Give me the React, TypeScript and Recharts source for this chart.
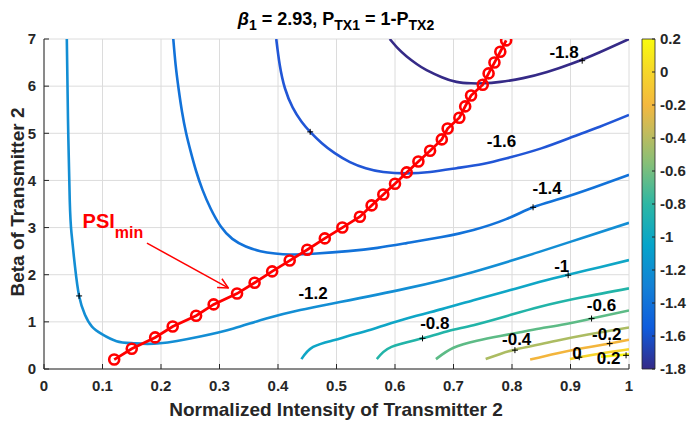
import React from 'react';
import { ComposedChart, Line, Scatter, XAxis, YAxis, CartesianGrid, ReferenceArea } from 'recharts';

// ---------- data ----------
const xTicks = [0, 0.1, 0.2, 0.3, 0.4, 0.5, 0.6, 0.7, 0.8, 0.9, 1];
const yTicks = [0, 1, 2, 3, 4, 5, 6, 7];
const cbTicks = [-1.8, -1.6, -1.4, -1.2, -1, -0.8, -0.6, -0.4, -0.2, 0, 0.2];

const levels = [-1.8, -1.6, -1.4, -1.2, -1, -0.8, -0.6, -0.4, -0.2, 0, 0.2];

const c18x = [0.591, 0.605, 0.62, 0.637, 0.654, 0.68, 0.705, 0.73, 0.751, 0.78, 0.819, 0.86, 0.905, 0.95, 1.0];
const c18y = [7.0, 6.8, 6.63, 6.47, 6.34, 6.19, 6.09, 6.06, 6.06, 6.09, 6.17, 6.3, 6.49, 6.72, 7.0];
const c16x = [0.397, 0.403, 0.412, 0.425, 0.44, 0.455, 0.475, 0.497, 0.523, 0.55, 0.58, 0.62, 0.66, 0.705, 0.75, 0.791, 0.85, 0.905, 0.95, 1.0];
const c16y = [7.0, 6.45, 5.95, 5.55, 5.25, 5.03, 4.79, 4.58, 4.39, 4.26, 4.18, 4.15, 4.18, 4.26, 4.35, 4.47, 4.68, 4.93, 5.14, 5.39];
const c14x = [0.221, 0.225, 0.23, 0.236, 0.243, 0.251, 0.26, 0.271, 0.285, 0.302, 0.322, 0.345, 0.37, 0.395, 0.421, 0.466, 0.52, 0.57, 0.62, 0.68, 0.734, 0.79, 0.836, 0.882, 0.94, 1.0];
const c14y = [7.0, 6.45, 5.95, 5.45, 5.0, 4.6, 4.2, 3.8, 3.4, 3.03, 2.76, 2.6, 2.5, 2.45, 2.43, 2.45, 2.5, 2.57, 2.67, 2.8, 2.95, 3.18, 3.43, 3.61, 3.85, 4.12];
const c12x = [0.039, 0.041, 0.044, 0.047, 0.053, 0.06, 0.07, 0.082, 0.099, 0.124, 0.153, 0.198, 0.267, 0.324, 0.38, 0.438, 0.506, 0.62, 0.734, 0.848, 0.92, 1.0];
const c12y = [7.0, 5.3, 3.58, 2.88, 2.17, 1.55, 1.15, 0.9, 0.74, 0.59, 0.545, 0.545, 0.69, 0.86, 1.07, 1.25, 1.42, 1.71, 2.06, 2.49, 2.78, 3.1];
const c10x = [0.44, 0.46, 0.495, 0.52, 0.56, 0.62, 0.68, 0.734, 0.79, 0.848, 0.896, 0.95, 1.0];
const c10y = [0.21, 0.47, 0.61, 0.7, 0.84, 1.07, 1.27, 1.46, 1.65, 1.85, 2.0, 2.16, 2.31];
const c08x = [0.569, 0.594, 0.647, 0.69, 0.734, 0.79, 0.848, 0.92, 1.0];
const c08y = [0.21, 0.47, 0.65, 0.8, 0.93, 1.12, 1.32, 1.52, 1.71];
const c06x = [0.67, 0.7, 0.74, 0.78, 0.814, 0.848, 0.89, 0.936, 1.0];
const c06y = [0.21, 0.45, 0.6, 0.7, 0.78, 0.86, 0.95, 1.07, 1.24];
const c04x = [0.755, 0.78, 0.805, 0.85, 0.876, 0.93, 1.0];
const c04y = [0.21, 0.32, 0.41, 0.53, 0.6, 0.73, 0.88];
const c02x = [0.831, 0.876, 0.92, 0.967, 1.0];
const c02y = [0.2, 0.33, 0.44, 0.54, 0.62];
const c00x = [0.899, 0.915, 0.962, 1.0];
const c00y = [0.21, 0.25, 0.35, 0.42];
const cp2x = [0.952, 0.975, 1.0];
const cp2y = [0.26, 0.285, 0.31];

const psiX = [0.12, 0.15, 0.19, 0.22, 0.26, 0.29, 0.33, 0.36, 0.39, 0.42, 0.45, 0.48, 0.51, 0.54, 0.56, 0.58, 0.6, 0.62, 0.64, 0.66, 0.68, 0.69, 0.71, 0.72, 0.73, 0.75, 0.76, 0.77, 0.78, 0.79];
const psiY = [0.2, 0.43, 0.67, 0.9, 1.13, 1.37, 1.6, 1.83, 2.07, 2.3, 2.53, 2.77, 3.0, 3.23, 3.47, 3.7, 3.93, 4.17, 4.4, 4.63, 4.87, 5.1, 5.33, 5.57, 5.8, 6.03, 6.27, 6.5, 6.73, 6.97];

const labelText = ['-1.8', '-1.6', '-1.4', '-1.2', '-1', '-0.8', '-0.6', '-0.4', '-0.2', '0', '0.2'];
const labelX = [0.889, 0.782, 0.86, 0.46, 0.885, 0.668, 0.953, 0.808, 0.962, 0.911, 0.965];
const labelY = [6.72, 4.82, 3.83, 1.61, 2.17, 0.97, 1.34, 0.62, 0.74, 0.32, 0.23];

const plusX = [0.92, 0.455, 0.836, 0.06, 0.896, 0.647, 0.936, 0.805, 0.967, 0.915, 0.995];
const plusY = [6.54, 5.03, 3.43, 1.55, 1.99, 0.65, 1.07, 0.4, 0.54, 0.25, 0.29];

const arrowX = [0.176, 0.315];
const arrowY = [2.67, 1.72];
const psiLabelX = [0.066];
const psiLabelY = [2.99];

// ---------- styles ----------
const levelColors = ['#352a87', '#2156d6', '#1272d9', '#138ed4', '#0fa6c6', '#22b4a8', '#5dbb86', '#acbc62', '#f3b53c', '#f6d42a', '#f9f50e'];
const FONT = '"Liberation Sans", Arial, Helvetica, sans-serif';
const AX = '#262626';

const zip = (xs: number[], ys: number[]) => xs.map((x, i) => ({ x, y: ys[i] }));

const contours = [
  zip(c18x, c18y), zip(c16x, c16y), zip(c14x, c14y), zip(c12x, c12y), zip(c10x, c10y),
  zip(c08x, c08y), zip(c06x, c06y), zip(c04x, c04y), zip(c02x, c02y), zip(c00x, c00y), zip(cp2x, cp2y),
];
const psiData = zip(psiX, psiY);
const labelData = labelX.map((x, i) => ({ x, y: labelY[i], t: labelText[i] }));
const plusData = zip(plusX, plusY);
const arrowData = zip(arrowX, arrowY);
const psiLabelData = zip(psiLabelX, psiLabelY);

const fmt = (v: number) => String(Number(v.toFixed(2)));

const tickStyle = { fill: AX, fontSize: 15, fontWeight: 700, fontFamily: FONT };

const ContourLabel = (p: any) => (
  <text x={p.cx} y={p.cy} textAnchor="middle" dominantBaseline="central" fontSize={17} fontWeight={700} fontFamily={FONT} fill="#000">
    {p.payload.t}
  </text>
);
const Plus = (p: any) => (
  <path d={`M${p.cx - 3},${p.cy}h6M${p.cx},${p.cy - 3}v6`} stroke="#000" strokeWidth={1} fill="none" />
);
const PsiLabel = (p: any) => (
  <text x={p.cx} y={p.cy} fill="#ff0000" fontFamily={FONT} fontWeight={700} fontSize={20}>
    <tspan>PSI</tspan>
    <tspan fontSize={16} dy={10}>min</tspan>
  </text>
);

export default function App() {
  return (
    <div style={{ position: 'absolute', left: 0, top: 0, width: 688, height: 425, background: '#fff' }}>
      <div style={{ position: 'absolute', left: 0, top: 0 }}>
        <ComposedChart width={688} height={425} margin={{ top: 39, right: 59, bottom: 0, left: 0 }}>
          <defs>
            <marker id="arrowHead" viewBox="0 0 12 12" refX="11" refY="6" markerWidth="12" markerHeight="12" orient="auto" markerUnits="userSpaceOnUse">
              <path d="M1,1 L11,6 L1,11" fill="none" stroke="#ff0000" strokeWidth={1.5} />
            </marker>
          </defs>
          <CartesianGrid stroke="#dcdcdc" strokeWidth={1} />
          <XAxis dataKey="x" type="number" domain={[0, 1]} ticks={xTicks} tickFormatter={fmt} height={56}
            allowDataOverflow stroke={AX} tickSize={-5} tickMargin={16} tick={tickStyle} interval={0} />
          <XAxis xAxisId="top" orientation="top" type="number" domain={[0, 1]} ticks={xTicks} height={0}
            allowDataOverflow stroke={AX} tickSize={-5} tick={false} interval={0} />
          <YAxis dataKey="y" type="number" domain={[0, 7]} ticks={yTicks} width={44}
            allowDataOverflow stroke={AX} tickSize={-5} tickMargin={13} tick={tickStyle} interval={0} />
          <YAxis yAxisId="right" orientation="right" type="number" domain={[0, 7]} ticks={yTicks} width={0}
            allowDataOverflow stroke={AX} tickSize={-5} tick={false} interval={0} />
          {contours.map((d, i) => (
            <Line key={'c' + i} data={d} dataKey="y" type="natural" stroke={levelColors[i]} strokeWidth={2.6}
              dot={false} activeDot={false} isAnimationActive={false} name={String(levels[i])} />
          ))}
          <Scatter data={plusData} dataKey="y" shape={Plus} isAnimationActive={false} />
          <Scatter data={labelData} dataKey="y" shape={ContourLabel} isAnimationActive={false} />
          <Line data={psiData} dataKey="y" type="linear" stroke="#ff0000" strokeWidth={2.8}
            dot={{ r: 5, stroke: '#ff0000', strokeWidth: 2.6, fill: 'none' }} activeDot={false} isAnimationActive={false} />
          <Line data={arrowData} dataKey="y" type="linear" stroke="#ff0000" strokeWidth={1.5} dot={false}
            activeDot={false} isAnimationActive={false} markerEnd="url(#arrowHead)" />
          <Scatter data={psiLabelData} dataKey="y" shape={PsiLabel} isAnimationActive={false} />
        </ComposedChart>
      </div>
      <div style={{ position: 'absolute', left: 0, top: 0 }}>
        <ComposedChart width={688} height={425} margin={{ top: 39, right: 0, bottom: 56, left: 642 }} data={[{ x: 0, v: -1.8 }, { x: 1, v: 0.2 }]}>
          <defs>
            <linearGradient id="parula" x1="0" y1="1" x2="0" y2="0">
              <stop offset="0" stopColor="#352a87" />
              <stop offset="0.125" stopColor="#0f5cdd" />
              <stop offset="0.25" stopColor="#1481d6" />
              <stop offset="0.375" stopColor="#06a4ca" />
              <stop offset="0.5" stopColor="#2eb7a4" />
              <stop offset="0.625" stopColor="#87bf77" />
              <stop offset="0.72" stopColor="#c4bb5c" />
              <stop offset="0.8" stopColor="#f4b83f" />
              <stop offset="0.9" stopColor="#f6d62a" />
              <stop offset="1" stopColor="#f9fb0e" />
            </linearGradient>
          </defs>
          <XAxis dataKey="x" type="number" domain={[0, 1]} hide />
          <YAxis dataKey="v" orientation="right" type="number" domain={[-1.8, 0.2]} ticks={cbTicks} width={33}
            allowDataOverflow stroke={AX} tickSize={-3} tickMargin={8} tick={tickStyle} tickFormatter={fmt} interval={0} axisLine={false} />
          <ReferenceArea x1={0} x2={1} y1={-1.8} y2={0.2} fill="url(#parula)" fillOpacity={1} stroke={AX} strokeWidth={0.8} ifOverflow="visible" />
        </ComposedChart>
      </div>
      <svg width={688} height={425} style={{ position: 'absolute', left: 0, top: 0, pointerEvents: 'none' }} fontFamily={FONT} fontWeight={700}>
        <text x={336} y={25} textAnchor="middle" fontSize={18} fill="#000" style={{ whiteSpace: 'pre' }}>
          <tspan fontStyle="italic">β</tspan>
          <tspan fontSize={14} dy={5}>1</tspan>
          <tspan dy={-5}>{' = 2.93, P'}</tspan>
          <tspan fontSize={14} dy={5}>TX1</tspan>
          <tspan dy={-5}>{' = 1-P'}</tspan>
          <tspan fontSize={14} dy={5}>TX2</tspan>
        </text>
        <text x={336} y={416} textAnchor="middle" fontSize={19} fill={AX}>Normalized Intensity of Transmitter 2</text>
        <text transform="translate(23.5,202) rotate(-90)" textAnchor="middle" fontSize={19} fill={AX}>Beta of Transmitter 2</text>
      </svg>
    </div>
  );
}
